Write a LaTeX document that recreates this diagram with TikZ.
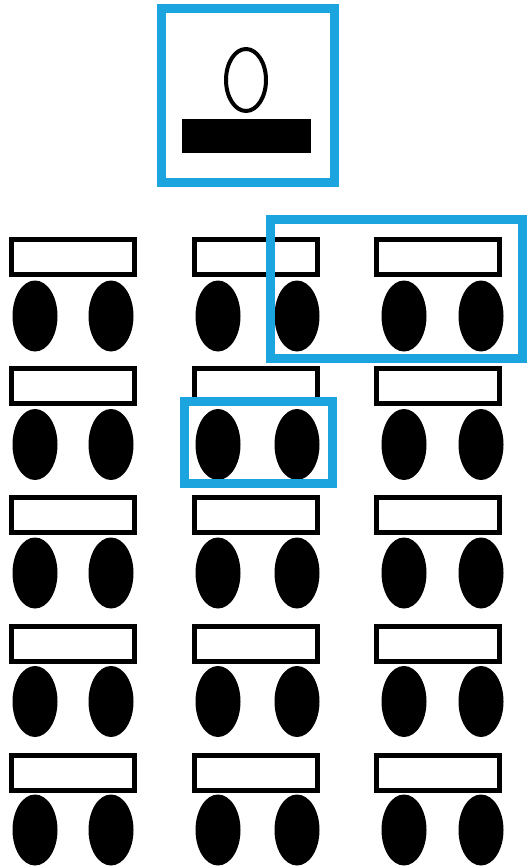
\documentclass[tikz,border=0pt]{standalone}
\usetikzlibrary{shapes.geometric}
\definecolor{frameblue}{RGB}{28,164,222}
\begin{document}
\begin{tikzpicture}[x=1pt,y=-1pt,
  hlbox/.style={draw=frameblue,line width=9pt},
  bench/.style={draw=black,line width=5pt,rectangle,minimum width=123pt,minimum height=35pt,inner sep=0pt},
  seat/.style={fill=black,ellipse,minimum width=45pt,minimum height=71pt,inner sep=0pt},
  ring/.style={draw=black,line width=4pt,ellipse,minimum width=40pt,minimum height=62pt,inner sep=0pt},
  desk/.style={fill=black,rectangle,minimum width=129pt,minimum height=34pt,inner sep=0pt}]
\useasboundingbox[fill=white] (0,0) rectangle (528,866);
% teacher
\node[desk] (desk) at (246,136) {};
\node[ring] (teacher) at (246,80) {};
% classroom grid
\foreach \c/\cx/\ea/\eb in {1/73/35/111, 2/256/218/297, 3/438/404/481}{
  \foreach \r in {1,...,5}{
    \pgfmathsetmacro{\ry}{257+129*(\r-1)}
    \pgfmathsetmacro{\ey}{\ry+59-0.5*(\r-1)}
    \node[bench] (b\c\r) at (\cx,\ry) {};
    \node[seat] (sa\c\r) at (\ea,\ey) {};
    \node[seat] (sb\c\r) at (\eb,\ey) {};
  }
}
% highlight frames
\draw[hlbox] (161,9) rectangle (334,183);
\draw[hlbox] (270,220) rectangle (522,358);
\draw[hlbox] (184,401) rectangle (332,483);
\end{tikzpicture}
\end{document}
